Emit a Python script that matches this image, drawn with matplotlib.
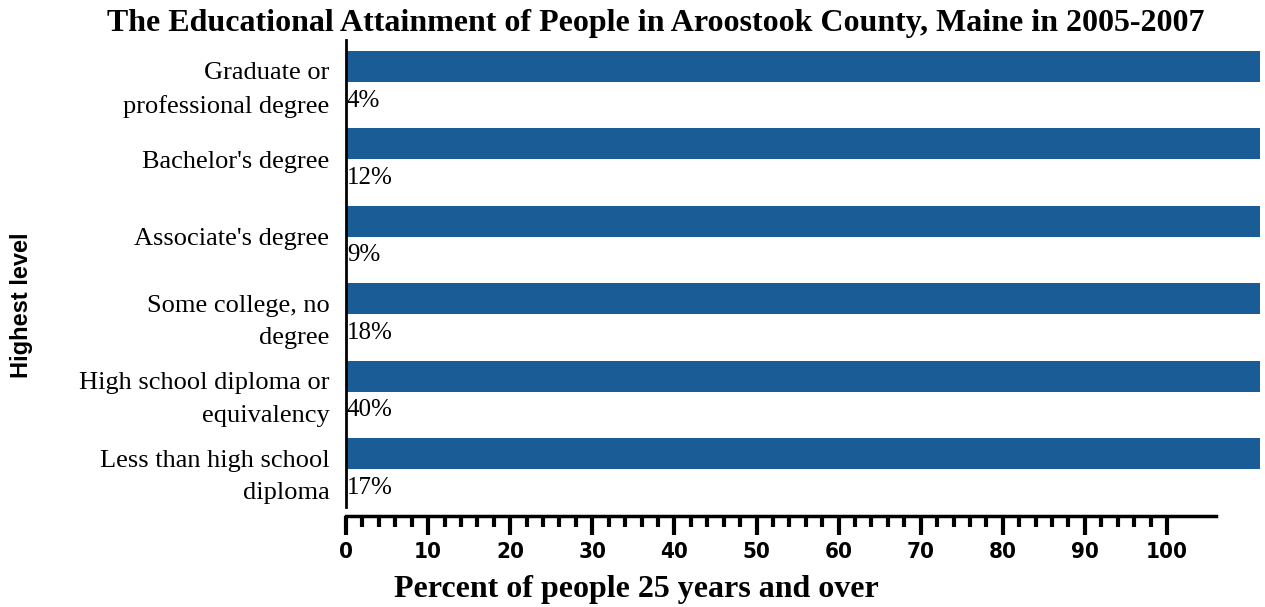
import numpy as np
import matplotlib.pyplot as plt

levels = ["Graduate or\nprofessional degree", "Bachelor's degree", "Associate's degree",
          "Some college, no\ndegree", "High school diploma or\nequivalency",
          "Less than high school\ndiploma"]
percents = [4, 12, 9, 18, 40, 17]
tick_values = list(range(0, 101, 10))

W, H = 1265, 607
fig = plt.figure(figsize=(W / 100, H / 100), dpi=100)

# px helpers
def box(x0, y0, x1, y1):
    return [x0 / W, 1 - y1 / H, (x1 - x0) / W, (y1 - y0) / H]

px_per_unit = 8.21
ax = fig.add_axes(box(346, 40, 1260, 507))
xmax = (1260 - 346) / px_per_unit
y = np.arange(len(levels))
pitch = 77.4
ax.barh(y - 0.2, [xmax] * len(levels), height=0.40, color="#1a5c96", left=0)
ax.set_xlim(0, xmax)
ax.set_ylim((507 - 82) / pitch, -(82 - 40) / pitch)
for s in ["top", "right", "bottom"]:
    ax.spines[s].set_visible(False)
ax.spines["left"].set_linewidth(2)
ax.set_xticks([])
ax.set_yticks(y)
ax.set_yticklabels(levels, family="Liberation Serif", fontsize=19, linespacing=1.62)
ax.tick_params(axis="y", length=0, pad=12)
for t in ax.get_yticklabels():
    if "\n" in t.get_text():
        t.set_y(t.get_position()[1])
for yi, p in zip(y, percents):
    ax.text(0.1, yi + 0.24, f"{p}%", family="Liberation Serif", fontsize=18,
            va="center", ha="left")

# ruler-style x axis
rx = fig.add_axes(box(346, 515, 1216, 516))
rx.set_xlim(0, (1216 - 346) / px_per_unit)
rx.set_ylim(0, 1)
for s in ["top", "right", "left"]:
    rx.spines[s].set_visible(False)
rx.spines["bottom"].set_linewidth(2.5)
rx.set_yticks([])
rx.set_xticks(tick_values)
rx.set_xticks(np.arange(0, 101, 2), minor=True)
rx.tick_params(axis="x", which="major", length=14, width=3, direction="out", pad=5)
rx.tick_params(axis="x", which="minor", length=8, width=3, direction="out")
rx.set_xticklabels([str(v) for v in tick_values], fontweight="heavy",
                   family="DejaVu Sans", fontstretch="condensed", fontsize=16)

fig.text(656 / W, 1 - 23 / H, "The Educational Attainment of People in Aroostook County, Maine in 2005-2007",
         family="Liberation Serif", fontweight="bold", fontsize=23, ha="center", va="center")
fig.text(636 / W, 1 - 590 / H, "Percent of people 25 years and over",
         family="Liberation Serif", fontweight="bold", fontsize=23, ha="center", va="center")
fig.text(22 / W, 1 - 305 / H, "Highest level", family="Liberation Sans", fontweight="bold",
         fontsize=17, rotation=90, ha="center", va="center")

fig.savefig("out.png", dpi=100)
